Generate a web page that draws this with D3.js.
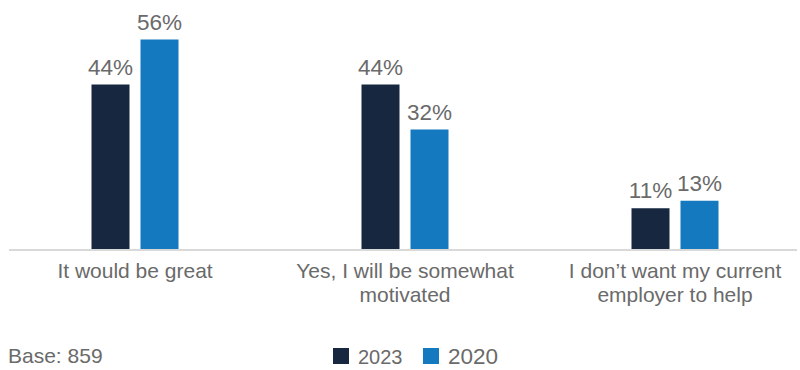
<!DOCTYPE html>
<html>
<head>
<meta charset="utf-8">
<script src="https://cdn.jsdelivr.net/npm/d3@7"></script>
<style>
  body { margin: 0; background: #fff; }
  svg { display: block; font-family: "Liberation Sans", Arial, sans-serif; }
</style>
</head>
<body>
<svg id="chart" width="800" height="370"></svg>
<script>
// Survey answers, two survey years
const categories = [
  "It would be great",
  "Yes, I will be somewhat motivated",
  "I don\u2019t want my current employer to help"
];
const seriesNames = ["2023", "2020"];
const values2023 = [44, 44, 11];
const values2020 = [56, 32, 13];
const baseNote = "Base: 859";

const colors = { "2023": "#172740", "2020": "#1479bf" };
const textColor = "#6a6a6a";

const rows = categories.map((c, i) => ({
  category: c,
  bars: [
    { series: "2023", value: values2023[i] },
    { series: "2020", value: values2020[i] }
  ]
}));

const svg = d3.select("#chart");
const baselineY = 249.5;

const x = d3.scaleBand().domain(categories).range([0, 810]);
const xInner = d3.scaleBand().domain(seriesNames)
  .range([-43.5, 43.5]).paddingInner(11 / 49).paddingOuter(0);
const y = d3.scaleLinear().domain([0, 60]).range([baselineY, baselineY - 225]);

// bars
const groups = svg.append("g").selectAll("g")
  .data(rows).join("g")
  .attr("transform", d => `translate(${x(d.category) + x.bandwidth() / 2},0)`);

groups.selectAll("rect")
  .data(d => d.bars).join("rect")
  .attr("x", d => xInner(d.series))
  .attr("width", xInner.bandwidth())
  .attr("y", d => y(d.value))
  .attr("height", d => y(0) - y(d.value))
  .attr("fill", d => colors[d.series]);

// value labels
groups.selectAll("text.val")
  .data(d => d.bars).join("text")
  .attr("class", "val")
  .attr("x", d => xInner(d.series) + xInner.bandwidth() / 2)
  .attr("y", d => y(d.value) - 10)
  .attr("text-anchor", "middle")
  .attr("font-size", 22.5)
  .attr("fill", textColor)
  .text(d => d.value + "%");

// baseline
svg.append("line")
  .attr("x1", 9).attr("x2", 797)
  .attr("y1", baselineY + 0.5).attr("y2", baselineY + 0.5)
  .attr("stroke", "#d9d9d9").attr("stroke-width", 2);

// category axis
const axis = svg.append("g")
  .attr("transform", `translate(0,${baselineY})`)
  .call(d3.axisBottom(x).tickSize(0).tickPadding(0));
axis.select(".domain").remove();
axis.selectAll("text")
  .attr("font-size", 21)
  .attr("font-family", "\"Liberation Sans\", Arial, sans-serif")
  .attr("fill", textColor)
  .attr("dy", null)
  .attr("y", 28)
  .each(function (d) { wrap(d3.select(this), d, 240); });

function wrap(sel, str, width) {
  const words = str.split(" ");
  sel.text(null);
  let line = [];
  let lineNo = 0;
  let tspan = sel.append("tspan").attr("x", 0).attr("y", 28);
  for (const w of words) {
    line.push(w);
    tspan.text(line.join(" "));
    if (tspan.node().getComputedTextLength() > width && line.length > 1) {
      line.pop();
      tspan.text(line.join(" "));
      line = [w];
      lineNo++;
      tspan = sel.append("tspan").attr("x", 0).attr("y", 28 + lineNo * 24.5).text(w);
    }
  }
}

// footnote
svg.append("text")
  .attr("x", 8).attr("y", 363)
  .attr("font-size", 21)
  .attr("fill", textColor)
  .text(baseNote);

// legend
const legendItems = [
  { name: "2023", x: 333, size: 20 },
  { name: "2020", x: 423, size: 22.5 }
];
const legend = svg.append("g").selectAll("g")
  .data(legendItems).join("g")
  .attr("transform", d => `translate(${d.x},348)`);
legend.append("rect")
  .attr("width", 16).attr("height", 16)
  .attr("fill", d => colors[d.name]);
legend.append("text")
  .attr("x", 25).attr("y", 15.5)
  .attr("font-size", d => d.size)
  .attr("fill", textColor)
  .text(d => d.name);
</script>
</body>
</html>
